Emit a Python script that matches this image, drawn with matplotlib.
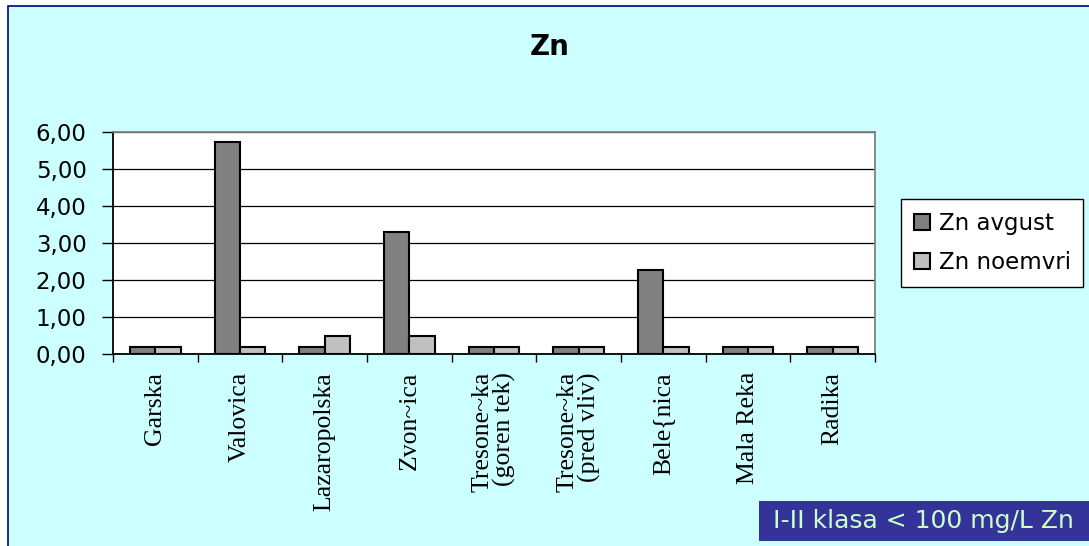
import numpy as np
import matplotlib
matplotlib.use('Agg')
import matplotlib.pyplot as plt
from matplotlib.patches import Rectangle
from matplotlib.ticker import FuncFormatter, FixedLocator

plt.rcParams['font.family'] = ['DejaVu Sans']

# Zn po mesta, avgust i noemvri (mg/L)
mesta = ['Garska', 'Valovica', 'Lazaropolska', 'Zvon~ica',
         'Tresone~ka\n(goren tek)', 'Tresone~ka\n(pred vliv)',
         'Bele{nica', 'Mala Reka', 'Radika']
zn_avgust = [0.2, 5.72, 0.2, 3.3, 0.2, 0.2, 2.28, 0.2, 0.2]
zn_noemvri = [0.2, 0.2, 0.48, 0.48, 0.2, 0.2, 0.2, 0.2, 0.2]
y_ticks = [0, 1, 2, 3, 4, 5, 6]

W, H = 1089, 546
fig = plt.figure(figsize=(W / 100, H / 100), dpi=100, facecolor='white')

# svetlo-cijan pozadina so tenka ramka
fig.patches.append(Rectangle((7.5 / W, -0.02), 1.05, 1 - 6.5 / H + 0.02,
                             transform=fig.transFigure, facecolor='#CCFFFF',
                             edgecolor='#000080', lw=1.2, zorder=-5))

ax = fig.add_axes([113 / W, 1 - 354 / H, (875 - 113) / W, (354 - 132) / H])
ax.set_zorder(2)
ax.set_facecolor('white')

x = np.arange(len(mesta))
w = 0.3
ax.bar(x - w / 2, zn_avgust, w, color='#808080', edgecolor='black', lw=1.5,
       label='Zn avgust', zorder=3)
ax.bar(x + w / 2, zn_noemvri, w, color='#C0C0C0', edgecolor='black', lw=1.5,
       label='Zn noemvri', zorder=3)

ax.set_xlim(-0.5, len(mesta) - 0.5)
ax.set_ylim(0, 6)
ax.set_yticks(y_ticks)
ax.yaxis.set_major_formatter(FuncFormatter(lambda v, p: f'{v:.2f}'.replace('.', ',')))
ax.tick_params(axis='y', direction='out', length=8, width=1, pad=11,
               labelsize=16.5, color='black')

ax.set_xticks(x)
ax.set_xticklabels(mesta, rotation=90, fontfamily='Liberation Serif',
                   fontsize=18.5, linespacing=0.95, va='top', ha='center',
                   multialignment='right')
ax.tick_params(axis='x', which='major', length=0, pad=13)
ax.xaxis.set_minor_locator(FixedLocator(np.arange(-0.5, len(mesta), 1)))
ax.tick_params(axis='x', which='minor', direction='out', length=6, width=1,
               color='black')

ax.set_axisbelow(True)
ax.yaxis.grid(True, color='black', lw=0.9)
ax.spines['left'].set_color('black')
ax.spines['bottom'].set_color('black')
ax.spines['top'].set_color('#808080')
ax.spines['right'].set_color('#808080')
for s in ax.spines.values():
    s.set_linewidth(1.3)

fig.text(550 / W, 1 - 47 / H, 'Zn', fontsize=20, fontweight='bold',
         ha='center', va='center')

leg = fig.legend(loc='upper left', bbox_to_anchor=(901 / W, 1 - 199 / H),
                 bbox_transform=fig.transFigure, borderaxespad=0,
                 fontsize=16.5, frameon=True, fancybox=False, shadow=False,
                 handlelength=0.7, handleheight=0.7, handletextpad=0.4,
                 labelspacing=0.72, borderpad=0.55)
leg.get_frame().set_edgecolor('black')
leg.get_frame().set_linewidth(1.0)
leg.get_frame().set_facecolor('white')
leg.get_frame().set_alpha(1)

# granica za I-II klasa
fig.patches.append(Rectangle((759 / W, 1 - 541 / H), (1089 - 759) / W, 40 / H,
                             transform=fig.transFigure, facecolor='#333399',
                             edgecolor='none', zorder=1))
fig.text(923 / W, 1 - 521 / H, 'I-II klasa < 100 mg/L Zn', fontsize=18,
         color='#CCFFCC', ha='center', va='center', zorder=2)

fig.savefig('out.png', dpi=100, facecolor=fig.get_facecolor())
